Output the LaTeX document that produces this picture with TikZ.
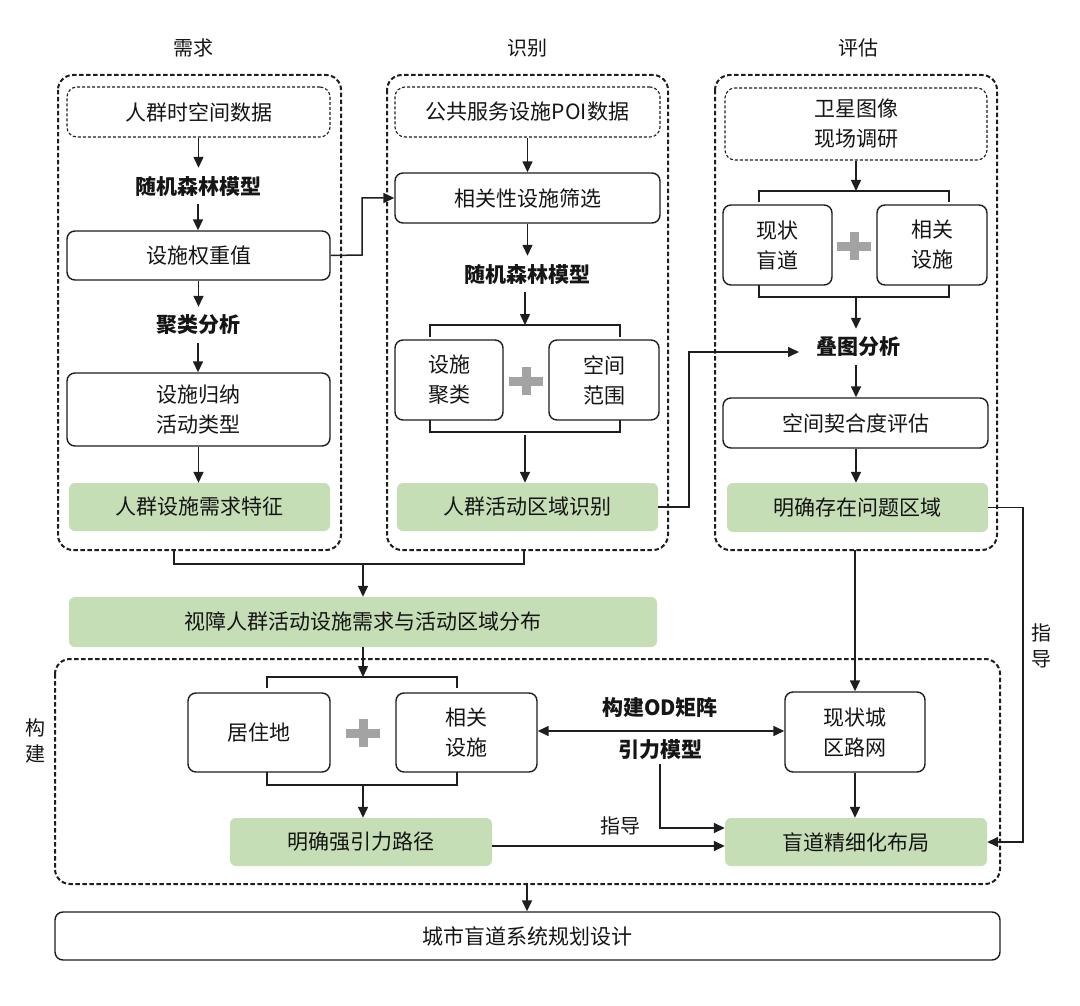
\documentclass[tikz,border=0pt]{standalone}
\usepackage{fontspec}
\setmainfont{Noto Sans CJK SC}
\usetikzlibrary{arrows.meta}
\definecolor{grn}{HTML}{C5DEB5}
\definecolor{lc}{HTML}{1E1E1E}
\definecolor{tc}{HTML}{151515}
\definecolor{plusgray}{HTML}{A3A3A3}
\tikzset{
  box/.style={draw=lc, line width=1.4pt, rounded corners=8pt, align=center, inner sep=0pt, text=tc},
  srcbox/.style={draw=lc, line width=1.1pt, dash pattern=on 3pt off 2pt, rounded corners=10pt, align=center, inner sep=0pt, text=tc},
  gbox/.style={fill=grn, rounded corners=6pt, align=center, inner sep=0pt, text=tc},
  outerbox/.style={draw=lc, line width=2pt, dash pattern=on 4.5pt off 2.5pt, rounded corners=15pt},
  lbl/.style={font=\fontsize{21}{30}\selectfont\bfseries, text=tc, inner xsep=3pt, inner ysep=8pt},
  ttl/.style={font=\fontsize{20}{26}\selectfont, text=tc, align=center, inner sep=2pt},
  arr/.style={draw=lc, line width=1.5pt, -{Triangle[length=11pt,width=10pt]}},
  darr/.style={draw=lc, line width=1.5pt, {Triangle[length=11pt,width=10pt]}-{Triangle[length=11pt,width=10pt]}},
  ln/.style={draw=lc, line width=1.4pt},
  plusmark/.pic={\fill[plusgray] (-17,-4.5) rectangle (17,4.5); \fill[plusgray] (-4.5,-14) rectangle (4.5,14);}
}
\begin{document}
\begin{tikzpicture}[x=1pt,y=-1pt, font=\fontsize{21}{30}\selectfont]
\useasboundingbox[fill=white] (0,0) rectangle (1080,1006);

% titles
\node[ttl] (t1) at (193,48) {需求};
\node[ttl] (t2) at (527,48) {识别};
\node[ttl] (t3) at (858,48) {评估};

% outer boxes
\draw[outerbox] (58,75) rectangle (341,550);
\draw[outerbox] (387,75) rectangle (668,550);
\draw[outerbox] (715,75) rectangle (997,550);
\draw[outerbox] (55,659) rectangle (1000,884);
\coordinate (o1b) at (174,550);
\coordinate (o2b) at (524,550);
\coordinate (o3b) at (855,550);
\coordinate (o4b) at (527,884);

% column 1
\node[srcbox, minimum width=263, minimum height=50] (src1) at (198.5,112) {人群时空间数据};
\node[lbl] (rf1) at (198,186) {随机森林模型};
\node[box, minimum width=263, minimum height=49] (w1) at (198.5,255.5) {设施权重值};
\node[lbl] (cl1) at (198,325) {聚类分析};
\node[box, minimum width=263, minimum height=73] (act1) at (198.5,409.5) {设施归纳\\活动类型};
\node[gbox, minimum width=261, minimum height=48] (g1) at (199.5,507) {人群设施需求特征};
\draw[arr] (src1.south) -- (src1.south |- rf1.north);
\draw[arr] (rf1.south) -- (rf1.south |- w1.north);
\draw[arr] (w1.south) -- (w1.south |- cl1.north);
\draw[arr] (cl1.south) -- (cl1.south |- act1.north);
\draw[arr] (act1.south) -- (act1.south |- g1.north);

% column 2
\node[srcbox, minimum width=265, minimum height=50] (src2) at (527.5,112) {公共服务设施POI数据};
\node[box, minimum width=265, minimum height=50] (filt) at (527.5,198) {相关性设施筛选};
\node[lbl] (rf2) at (527,274) {随机森林模型};
\node[box, minimum width=108, minimum height=80] (cl2) at (449,380) {设施\\聚类};
\node[box, minimum width=110, minimum height=80] (sp2) at (604,380) {空间\\范围};
\pic at (526,381) {plusmark};
\coordinate (b2t) at (525,325);
\coordinate (b2b) at (525,432);
\draw[ln] (430,337) -- (430,325) -- (620,325) -- (620,337);
\draw[ln] (430,420) -- (430,432) -- (620,432) -- (620,420);
\node[gbox, minimum width=261, minimum height=48] (g2) at (527.5,507) {人群活动区域识别};
\draw[arr] (src2.south) -- (src2.south |- filt.north);
\draw[arr] (filt.south) -- (filt.south |- rf2.north);
\draw[arr] (rf2.south -| b2t) -- (b2t);
\draw[arr] ([yshift=-3pt]b2b) -- (b2b |- g2.north);

% column 3
\node[srcbox, minimum width=262, minimum height=72] (src3) at (856,124) {卫星图像\\现场调研};
\node[box, minimum width=109, minimum height=80] (cur3) at (777.5,245) {现状\\盲道};
\node[box, minimum width=110, minimum height=80] (rel3) at (932,245) {相关\\设施};
\pic at (854,246) {plusmark};
\coordinate (b3t) at (856,191);
\coordinate (b3b) at (856,297);
\draw[ln] (759,202) -- (759,191) -- (949,191) -- (949,202);
\draw[ln] (759,285) -- (759,297) -- (949,297) -- (949,285);
\node[lbl] (ov3) at (858,347) {叠图分析};
\coordinate (ovin) at (799,352);
\node[box, minimum width=265, minimum height=50] (fit3) at (855.5,423) {空间契合度评估};
\node[gbox, minimum width=261, minimum height=49] (g3) at (857.5,507.5) {明确存在问题区域};
\draw[arr] (src3.south -| b3t) -- (b3t);
\draw[arr] (b3b) -- (b3b |- ov3.north);
\draw[arr] (ov3.south -| b3b) -- (b3b |- fit3.north);
\draw[arr] (fit3.south -| b3b) -- (b3b |- g3.north);

% cross connectors
\draw[arr] (w1.east) -- (362,255) |- (filt.west);
\draw[arr] (g2.east) -- (689,507) |- (ovin);

% merge of columns 1,2
\node[gbox, minimum width=588, minimum height=50] (gm) at (363,622) {视障人群活动设施需求与活动区域分布};
\coordinate (mb) at (363,564);
\draw[ln] (o1b) -- (174,564) -- (524,564) -- (o2b);
\draw[arr] (mb) -- (mb |- gm.north);

% construction section
\node[box, minimum width=142, minimum height=79] (res) at (259,732.5) {居住地};
\node[box, minimum width=141, minimum height=79] (rel4) at (466.5,732.5) {相关\\设施};
\pic at (363,733) {plusmark};
\coordinate (b4t) at (363,677);
\coordinate (b4b) at (363,785);
\draw[ln] (267,688) -- (267,677) -- (457,677) -- (457,688);
\draw[ln] (267,772) -- (267,785) -- (457,785) -- (457,772);
\draw[arr] (gm.south) -- (b4t);
\node[gbox, minimum width=262, minimum height=48] (path) at (361,842) {明确强引力路径};
\draw[arr] (b4b) -- (b4b |- path.north);

\node[box, minimum width=140, minimum height=80] (road) at (855,732) {现状城\\区路网};
\node[gbox, minimum width=262, minimum height=48] (fine) at (856,842) {盲道精细化布局};
\draw[arr] (o3b) -- (o3b |- road.north);
\draw[arr] (road.south) -- (road.south |- fine.north);
\coordinate (dl) at (rel4.east |- 0,731);
\coordinate (dr) at (road.west |- 0,731);
\draw[darr] (dl) -- (dr);
\node[lbl, inner ysep=2pt] (od) at (660,708) {构建OD矩阵};
\node[lbl, inner ysep=4pt] (grav) at (660,750) {引力模型};
\draw[arr] (grav.south) |- ([yshift=14pt]fine.west);
\draw[arr] ([yshift=-4pt]path.east) -- ([yshift=-4pt]fine.west);
\node[ttl] (guide1) at (620,826) {指导};
\draw[arr] (g3.east) -- (1023,507.5) |- (fine.east);
\node[ttl] (guide2) at (1041,646) {指\\导};
\node[ttl] (build) at (35,741) {构\\建};

% final
\node[box, minimum width=945, minimum height=48] (final) at (527.5,936) {城市盲道系统规划设计};
\draw[arr] (o4b) -- (o4b |- final.north);
\end{tikzpicture}
\end{document}
